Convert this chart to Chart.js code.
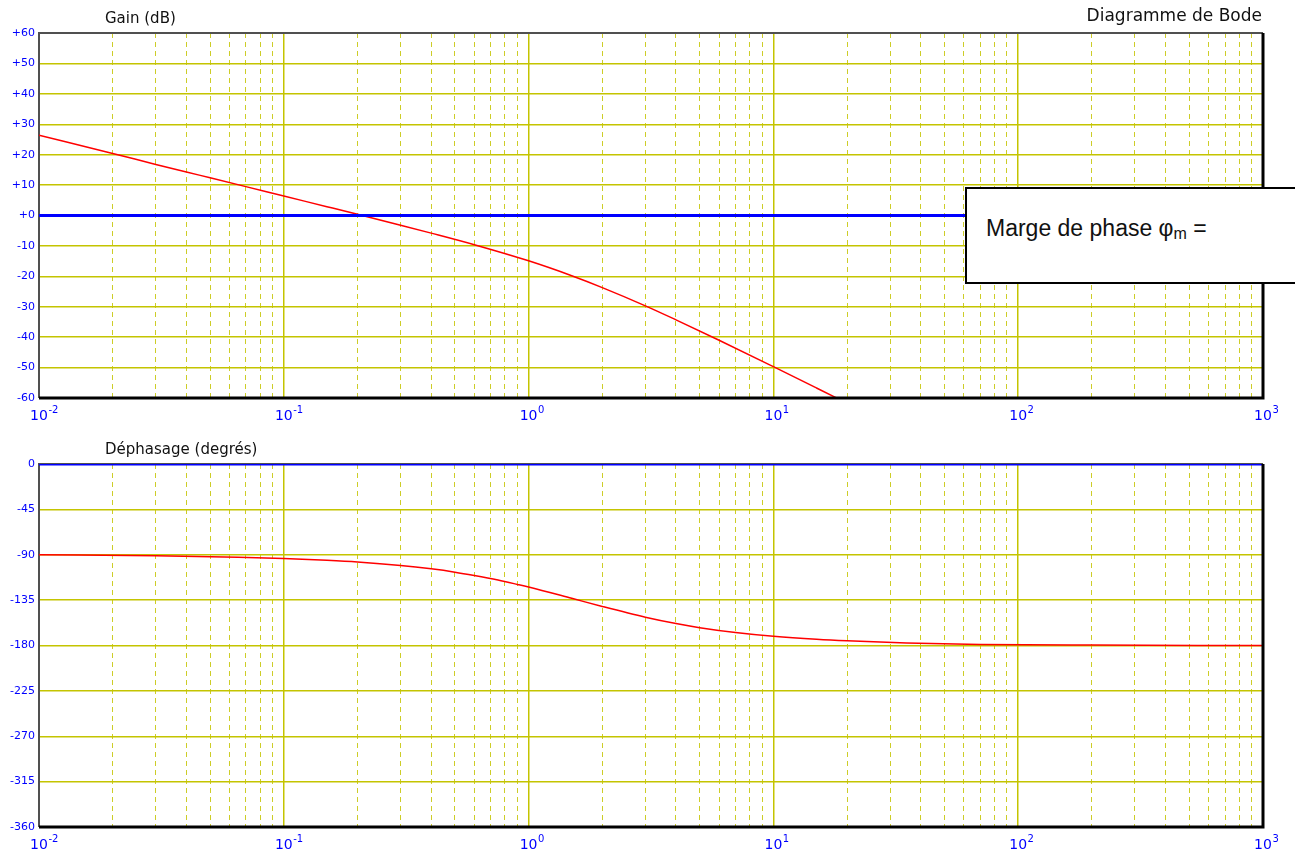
<!DOCTYPE html>
<html>
<head>
<meta charset="utf-8">
<script src="https://cdn.jsdelivr.net/npm/chart.js@4.4.0/dist/chart.umd.min.js"></script>
<style>
  body { margin: 0; background: #fff; }
  .wrap { position: relative; width: 1295px; height: 856px; overflow: hidden; }
  canvas { position: absolute; left: 0; }
  #gain { top: 0; }
  #phase { top: 430px; }
  .box {
    position: absolute; left: 965px; top: 187px; width: 340px; height: 93px;
    border: 2px solid #000; background: #fff;
    font-family: "Liberation Sans", Arial, sans-serif; font-size: 23px; color: #111;
  }
  .box .txt { position: absolute; left: 19px; top: 28px; line-height: 23px; white-space: nowrap; }
  .box .sub { font-size: 16px; position: relative; top: 3px; }
</style>
</head>
<body>
<div class="wrap">
  <canvas id="gain" width="1295" height="430"></canvas>
  <canvas id="phase" width="1295" height="426"></canvas>
  <div class="box"><span class="txt">Marge de phase φ<span class="sub">m</span> =</span></div>
</div>
<script>
// gain curve
const freqGain = [0.01, 0.02, 0.03, 0.04, 0.05, 0.07, 0.1, 0.15, 0.2, 0.3, 0.4, 0.6, 1, 1.5, 2, 3, 4, 6, 10, 15, 20];
const gainDb   = [26.4, 20.4, 16.8, 14.3, 12.4, 9.5, 6.4, 2.9, 0.4, -3.2, -5.8, -9.6, -14.9, -19.8, -23.7, -29.7, -34.3, -41, -49.7, -56.7, -61.7];

// phase curve
const freqPhase = [0.01, 0.03, 0.065, 0.1, 0.15, 0.2, 0.3, 0.4, 0.5, 0.6, 0.75, 0.9, 1, 1.5, 2, 3, 4, 5, 7, 10, 15, 20, 35, 70, 200, 1000];
const phaseDeg  = [-90, -91, -92.4, -93.6, -95.4, -97.1, -100.6, -104, -107.3, -110.6, -115.1, -119.4, -122, -133.2, -141.3, -151.9, -158.2, -162.3, -167.1, -170.9, -173.9, -175.4, -177.4, -178.9, -179.6, -180];

// axes
const decades = [0.01, 0.1, 1, 10, 100, 1000];
const decadeExp = ['-2', '-1', '0', '1', '2', '3'];
const minorSteps = [2, 3, 4, 5, 6, 7, 8, 9];
const gainTicks = [60, 50, 40, 30, 20, 10, 0, -10, -20, -30, -40, -50, -60];
const phaseTicks = [0, -45, -90, -135, -180, -225, -270, -315, -360];

const BLUE = '#0000ff';
const GRID = 'rgb(196,196,0)';
const GRID_MINOR = 'rgb(205,205,40)';
const FONT = '"DejaVu Sans", sans-serif';

const xTickValues = [];
decades.forEach((d, i) => {
  xTickValues.push(d);
  if (i < decades.length - 1) {
    minorSteps.forEach(m => xTickValues.push(+(d * m).toPrecision(3)));
  }
});

const isMinor = ctx => ctx.tick && !decades.includes(ctx.tick.value);

function xScale(height) {
  return {
    type: 'logarithmic',
    min: decades[0],
    max: decades[decades.length - 1],
    afterBuildTicks: s => { s.ticks = xTickValues.map(v => ({ value: v })); },
    afterFit: s => { s.height = height; },
    ticks: { display: false },
    grid: {
      color: ctx => isMinor(ctx) ? GRID_MINOR : GRID,
      lineWidth: ctx => isMinor(ctx) ? 1 : 1.5,
      drawTicks: false
    },
    border: {
      display: false,
      dash: ctx => isMinor(ctx) ? [5, 4] : []
    }
  };
}

function yScale(tickList, fmt) {
  return {
    type: 'linear',
    min: Math.min(...tickList),
    max: Math.max(...tickList),
    afterBuildTicks: s => { s.ticks = tickList.map(v => ({ value: v })); },
    afterFit: s => { s.width = 39; },
    ticks: { color: BLUE, font: { family: FONT, size: 11 }, padding: 4, autoSkip: false, callback: fmt },
    grid: { color: GRID, lineWidth: 1.5, drawTicks: false },
    border: { display: false }
  };
}

// sunken frame: grey left/top under the curves, black right/bottom above
const framePlugin = {
  id: 'frame',
  beforeDatasetsDraw(chart) {
    const { ctx, chartArea: a } = chart;
    ctx.save();
    ctx.strokeStyle = '#505050';
    ctx.lineWidth = 2;
    ctx.beginPath();
    ctx.moveTo(a.left, a.bottom);
    ctx.lineTo(a.left, a.top);
    ctx.lineTo(a.right, a.top);
    ctx.stroke();
    ctx.restore();
  },
  afterDatasetsDraw(chart) {
    const { ctx, chartArea: a } = chart;
    ctx.save();
    ctx.strokeStyle = '#000';
    ctx.lineWidth = 3;
    ctx.beginPath();
    ctx.moveTo(a.left, a.bottom);
    ctx.lineTo(a.right, a.bottom);
    ctx.lineTo(a.right, a.top);
    ctx.stroke();
    ctx.restore();
  }
};

function labelsPlugin(title, extra) {
  return {
    id: 'labels',
    afterDraw(chart) {
      const { ctx, chartArea: a } = chart;
      const x = chart.scales.x;
      ctx.save();
      ctx.fillStyle = '#111';
      ctx.textBaseline = 'middle';
      ctx.font = '15px ' + FONT;
      ctx.textAlign = 'left';
      ctx.fillText(title, 105, a.top - 14);
      if (extra) {
        ctx.font = '17px ' + FONT;
        ctx.textAlign = 'right';
        ctx.fillText(extra, a.right - 1, a.top - 16);
      }
      // 10^n labels under the decades
      ctx.fillStyle = BLUE;
      decades.forEach((d, i) => {
        const px = x.getPixelForValue(d);
        const y = a.bottom + 18;
        ctx.font = '14px ' + FONT;
        ctx.textAlign = 'center';
        ctx.fillText('10', px, y);
        const w = ctx.measureText('10').width;
        ctx.font = '10px ' + FONT;
        ctx.textAlign = 'left';
        ctx.fillText(decadeExp[i], px + w / 2 + 0.5, y - 6);
      });
      ctx.restore();
    }
  };
}

function zeroLine() {
  return {
    data: [{ x: decades[0], y: 0 }, { x: decades[decades.length - 1], y: 0 }],
    borderColor: BLUE,
    borderWidth: 3,
    pointRadius: 0
  };
}

function curve(fs, vs) {
  return {
    data: fs.map((f, i) => ({ x: f, y: vs[i] })),
    borderColor: '#ff0000',
    borderWidth: 1.5,
    pointRadius: 0,
    cubicInterpolationMode: 'monotone'
  };
}

const common = {
  responsive: false,
  animation: false,
  plugins: { legend: { display: false }, tooltip: { enabled: false } }
};

new Chart(document.getElementById('gain'), {
  type: 'line',
  data: { datasets: [zeroLine(), curve(freqGain, gainDb)] },
  options: {
    ...common,
    layout: { padding: { top: 33, right: 32, left: 0, bottom: 0 } },
    scales: {
      x: xScale(32),
      y: yScale(gainTicks, v => (v >= 0 ? '+' + v : String(v)))
    }
  },
  plugins: [framePlugin, labelsPlugin('Gain (dB)', 'Diagramme de Bode')]
});

new Chart(document.getElementById('phase'), {
  type: 'line',
  data: { datasets: [curve(freqPhase, phaseDeg), zeroLine()] },
  options: {
    ...common,
    layout: { padding: { top: 34, right: 32, left: 0, bottom: 0 } },
    scales: {
      x: xScale(29),
      y: yScale(phaseTicks, v => String(v))
    }
  },
  plugins: [framePlugin, labelsPlugin('Déphasage (degrés)')]
});
</script>
</body>
</html>
